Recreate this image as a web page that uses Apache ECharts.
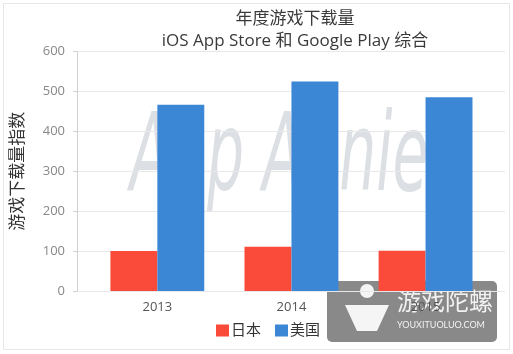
<!DOCTYPE html>
<html>
<head>
<meta charset="utf-8">
<script src="https://cdn.jsdelivr.net/npm/echarts@6/dist/echarts.min.js"></script>
<style>
  html, body { margin: 0; padding: 0; background: #fff; }
  #chart { width: 513px; height: 354px; }
</style>
</head>
<body>
<div id="chart"></div>
<script>
// 年度游戏下载量 (iOS App Store + Google Play)
const years = ['2013', '2014', '2015'];
const japan = [100, 111, 101];
const usa = [467, 525, 486];
const yTicks = [0, 100, 200, 300, 400, 500, 600];

const chart = echarts.init(document.getElementById('chart'));
const font = '"Open Sans", "Noto Sans CJK SC", sans-serif';

const option = {
  animation: false,
  textStyle: { fontFamily: font },
  title: [
    {
      text: '年度游戏下载量',
      left: 290, top: 6, textAlign: 'center',
      textStyle: { fontSize: 17, fontWeight: 'normal', color: '#3a3a3a', fontFamily: font },
    },
    {
      text: 'iOS App Store 和 Google Play 综合',
      left: 290, top: 28, textAlign: 'center',
      textStyle: { fontSize: 17, fontWeight: 'normal', color: '#3a3a3a', fontFamily: font },
    },
  ],
  legend: {
    bottom: 11, left: 211,
    itemWidth: 13, itemHeight: 12, itemGap: 14,
    icon: 'rect',
    textStyle: { fontSize: 15, color: '#333', padding: [0, 0, 0, -3] },
    data: ['日本', '美国'],
  },
  grid: [
    { left: 77, right: 8, top: 51.7, bottom: 63 },
    { left: 90.3, right: 20.4, top: 51.7, bottom: 63 },
  ],
  xAxis: [
    { gridIndex: 0, type: 'category', data: years, show: false },
    {
      gridIndex: 1, type: 'category', data: years,
      axisLine: { show: false }, axisTick: { show: false },
      axisLabel: { fontSize: 13, color: '#555', margin: 10 },
    },
  ],
  yAxis: [
    {
      gridIndex: 0, type: 'value', min: yTicks[0], max: yTicks[yTicks.length - 1], interval: 100,
      name: '游戏下载量指数', nameLocation: 'middle', nameGap: 50,
      nameTextStyle: { fontSize: 17, color: '#333' },
      axisLine: { show: true, lineStyle: { color: '#d0d0d0' } },
      axisTick: { show: true, length: 4, lineStyle: { color: '#d0d0d0' } },
      axisLabel: { fontSize: 13, color: '#888', margin: 12 },
      splitLine: { lineStyle: { color: '#e8e8e8' } },
    },
    { gridIndex: 1, type: 'value', min: 0, max: 600, show: false },
  ],
  series: [
    {
      name: '日本', type: 'bar', xAxisIndex: 1, yAxisIndex: 1,
      data: japan, barGap: '0%', barCategoryGap: '30%',
      itemStyle: { color: '#fa4a3a' },
    },
    {
      name: '美国', type: 'bar', xAxisIndex: 1, yAxisIndex: 1,
      data: usa, barGap: '0%', barCategoryGap: '30%',
      itemStyle: { color: '#3b86d5' },
    },
  ],
  graphic: [
    // 外框
    {
      type: 'rect', z: 0, silent: true,
      shape: { x: 3.5, y: 3.5, width: 506, height: 346 },
      style: { fill: 'none', stroke: '#e6e6e6', lineWidth: 1 },
    },
    // App Annie 水印
    {
      type: 'text', z: 0, silent: true,
      left: 130, top: 108,
      style: {
        text: 'App Annie', fill: '#dcdfe3',
        font: 'italic 108px "DejaVu Sans Condensed", "DejaVu Sans", sans-serif',
      },
      scaleX: 0.6,
    },
    // 游戏陀螺 标志
    {
      type: 'group', z: 100, left: 327, top: 281,
      children: [
        {
          type: 'rect', shape: { x: 0, y: 0, width: 170, height: 61, r: 5 },
          style: { fill: 'rgba(40,40,40,0.55)' },
        },
        {
          type: 'text', left: 70, top: 8,
          style: { text: '游戏陀螺', fill: '#f2f2f2', font: '24px "Noto Sans CJK SC"' },
        },
        {
          type: 'text', left: 70, top: 40,
          style: { text: 'YOUXITUOLUO.COM', fill: '#f2f2f2', font: '9px Lato' },
        },
        {
          type: 'circle', shape: { cx: 40, cy: 10, r: 7 },
          style: { fill: '#f5f5f5' },
        },
        {
          type: 'polygon',
          shape: { points: [[18, 24], [62, 24], [50, 50], [30, 50]] },
          style: { fill: '#f5f5f5' },
        },
      ],
    },
  ],
};

chart.setOption(option);
</script>
</body>
</html>
